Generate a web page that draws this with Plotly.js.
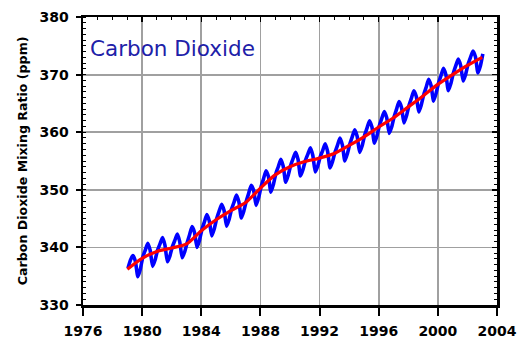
<!DOCTYPE html>
<html>
<head>
<meta charset="utf-8">
<script src="https://cdn.plot.ly/plotly-3.0.1.min.js"></script>
<style>html,body{margin:0;padding:0;background:#fff;}#chart{width:526px;height:338px;}</style>
</head>
<body>
<div id="chart"></div>
<script>
// Annual trend (ppm), start of each year
const trendYears = [1979,1980,1981,1982,1983,1984,1985,1986,1987,1988,1989,1990,1991,1992,1993,1994,1995,1996,1997,1998,1999,2000,2001,2002,2003];
const trendCO2 = [336.2,338.1,339.3,339.9,340.6,342.9,344.8,346.4,347.8,350.3,352.6,354.0,354.9,355.5,356.3,357.7,359.2,360.9,362.5,364.4,366.3,368.3,370.0,371.6,373.0];

// Bi-monthly samples (Jan, Mar, May, Jul, Sep, Nov) of the measured mixing ratio
const sampleMonths = [1,3,5,7,9,11];
const measuredYears = [1979,1980,1981,1982,1983,1984,1985,1986,1987,1988,1989,1990,1991,1992,1993,1994,1995,1996,1997,1998,1999,2000,2001,2002];
const measuredCO2 = [
  336.4,337.8,338.6,337.6,334.9,336.2,
  338.3,339.5,340.7,339.5,336.7,337.8,
  339.5,340.6,341.7,340.4,337.5,338.5,
  340.1,341.2,342.3,341.0,338.2,339.2,
  340.8,342.2,343.6,342.6,340.0,341.2,
  343.1,344.4,345.7,344.6,342.0,343.2,
  345.0,346.3,347.5,346.4,343.7,344.8,
  346.6,347.8,349.1,347.9,345.1,346.3,
  348.0,349.4,350.8,349.9,347.3,348.6,
  350.5,351.9,353.3,352.3,349.6,350.9,
  352.8,354.0,355.3,354.1,351.3,352.5,
  354.2,355.4,356.5,355.3,352.4,353.5,
  355.1,356.2,357.3,356.0,353.1,354.1,
  355.7,356.8,358.0,356.7,353.8,354.9,
  356.5,357.7,359.0,357.8,355.0,356.2,
  357.9,359.2,360.4,359.3,356.5,357.6,
  359.4,360.7,362.0,360.9,358.1,359.3,
  361.1,362.4,363.6,362.5,359.8,360.9,
  362.7,364.0,365.3,364.3,361.6,362.8,
  364.6,365.9,367.2,366.2,363.5,364.7,
  366.5,367.8,369.2,368.1,365.4,366.7,
  368.5,369.8,371.1,370.0,367.2,368.4,
  370.2,371.5,372.7,371.6,368.9,370.0,
  371.8,373.0,374.1,373.1,370.3,371.5
];
const finalSampleYear = 2003, finalSampleMonth = 1, finalSampleCO2 = 373.6;

const xTickVals = [1976,1980,1984,1988,1992,1996,2000,2004];
const yTickVals = [330,340,350,360,370,380];
const titleText = 'Carbon Dioxide';
const yTitleText = 'Carbon Dioxide Mixing Ratio (ppm)';

// build measured x (decimal years)
const mx = [], my = [];
let k = 0;
measuredYears.forEach(y => {
  sampleMonths.forEach(m => { mx.push(y + (m - 0.5) / 12); my.push(measuredCO2[k++]); });
});
mx.push(finalSampleYear + (finalSampleMonth - 0.5) / 12); my.push(finalSampleCO2);

const tickFont = {family: 'DejaVu Sans', size: 14, weight: 700, color: '#000'};

const data = [
  {x: mx, y: my, type: 'scatter', mode: 'lines', line: {color: '#0000ff', width: 3.6, shape: 'spline', smoothing: 0.5}, hoverinfo: 'skip'},
  {x: trendYears, y: trendCO2, type: 'scatter', mode: 'lines', xaxis: 'x2', yaxis: 'y2', line: {color: '#ff0000', width: 3.2, shape: 'spline', smoothing: 0.8}, hoverinfo: 'skip'}
];

const layout = {
  width: 526, height: 338,
  margin: {l: 83, r: 29, t: 17, b: 33},
  paper_bgcolor: '#fff', plot_bgcolor: '#fff',
  showlegend: false,
  xaxis: {
    range: [1976, 2004], tickvals: xTickVals, ticktext: xTickVals.map(String),
    ticks: 'outside', ticklen: 8, tickwidth: 2, tickcolor: '#000', ticklabelstandoff: 4,
    showline: true, linecolor: '#000', linewidth: 2.5,
    showgrid: true, gridcolor: '#a0a0a0', gridwidth: 1.8,
    zeroline: false, tickfont: tickFont, fixedrange: true
  },
  yaxis: {
    range: [330, 380], tickvals: yTickVals, ticktext: yTickVals.map(String),
    ticks: 'outside', ticklen: 5, tickwidth: 2, tickcolor: '#000', ticklabelstandoff: 4,
    minor: {ticks: 'inside', dtick: 1, ticklen: 3, tickwidth: 1, tickcolor: '#000', showgrid: false},
    showline: true, linecolor: '#000', linewidth: 2.5,
    showgrid: true, gridcolor: '#a0a0a0', gridwidth: 1.8,
    zeroline: false, tickfont: tickFont, fixedrange: true
  },
  xaxis2: {
    overlaying: 'x', side: 'top', range: [1976, 2004], tickvals: xTickVals,
    ticks: 'inside', ticklen: 5, tickwidth: 1.5, tickcolor: '#000',
    minor: {ticks: 'inside', dtick: 1, ticklen: 3, tickwidth: 1, tickcolor: '#000', showgrid: false},
    showticklabels: false, showline: true, linecolor: '#000', linewidth: 2.5,
    showgrid: false, zeroline: false, fixedrange: true
  },
  yaxis2: {
    overlaying: 'y', side: 'right', range: [330, 380], tickvals: yTickVals,
    ticks: 'inside', ticklen: 5, tickwidth: 1.5, tickcolor: '#000',
    minor: {ticks: 'inside', dtick: 1, ticklen: 3, tickwidth: 1, tickcolor: '#000', showgrid: false},
    showticklabels: false, showline: true, linecolor: '#000', linewidth: 2.5,
    showgrid: false, zeroline: false, fixedrange: true
  },
  annotations: [
    {text: titleText, xref: 'paper', yref: 'paper', x: 0.012, y: 0.892, xanchor: 'left', yanchor: 'middle',
     showarrow: false, font: {family: 'DejaVu Sans', size: 21.5, color: '#2020a8'}},
    {text: yTitleText, xref: 'paper', yref: 'paper', x: -0.147, y: 0.5, xanchor: 'center', yanchor: 'middle',
     textangle: -90, showarrow: false, font: {family: 'DejaVu Sans', size: 12.6, weight: 700, color: '#000'}}
  ]
};

Plotly.newPlot('chart', data, layout, {staticPlot: true, displayModeBar: false});
</script>
</body>
</html>
